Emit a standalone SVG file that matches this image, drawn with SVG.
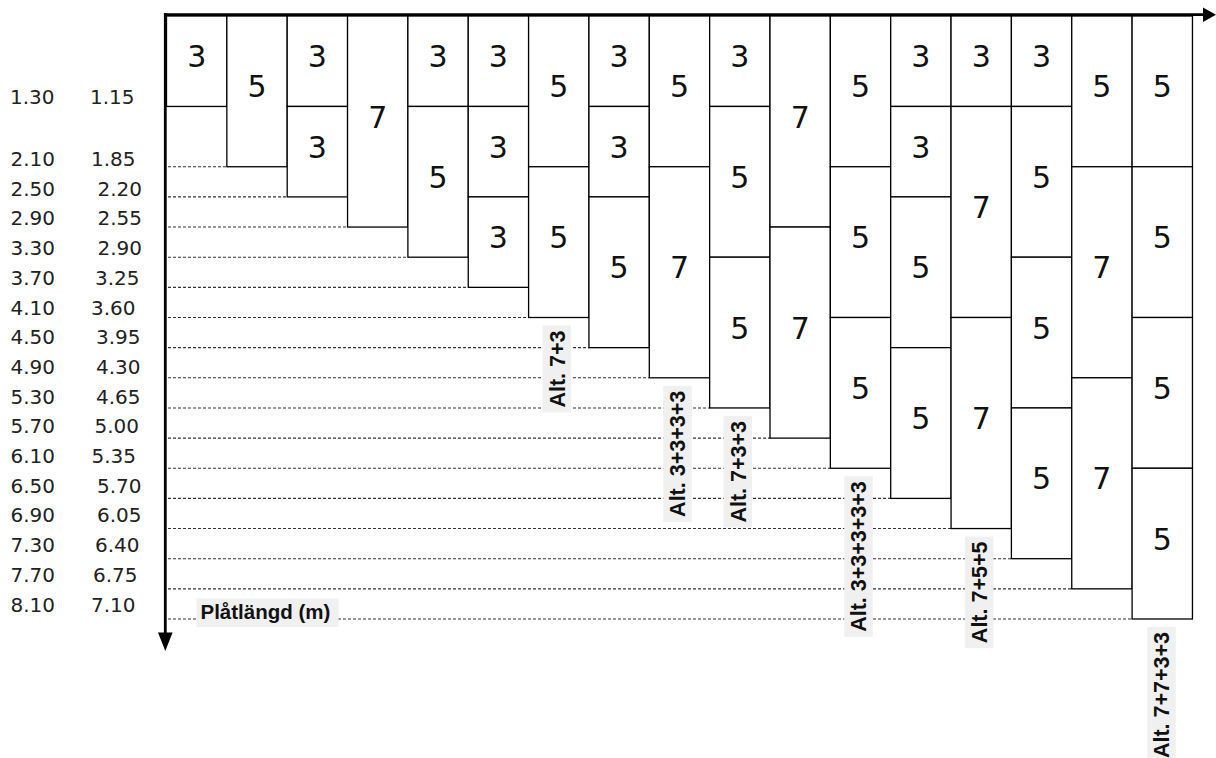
<svg xmlns="http://www.w3.org/2000/svg" width="1216" height="758" viewBox="0 0 1216 758">
<style>
.bg{fill:#ffffff}
.box{fill:#ffffff;stroke:#000;stroke-width:1.3}
.num{font-family:"DejaVu Sans","Liberation Sans",sans-serif;font-size:30px;fill:#111;text-anchor:middle}
.lbl{font-family:"DejaVu Sans","Liberation Sans",sans-serif;font-size:20px;fill:#222}
.dash{stroke:#333;stroke-width:1.1;stroke-dasharray:3 2;fill:none}
.tag{fill:#f0f0f0}
.alt{font-family:"Liberation Sans",Arial,sans-serif;font-weight:bold;font-size:21.5px;fill:#111;text-anchor:middle}
.ttl{font-family:"Liberation Sans",Arial,sans-serif;font-weight:bold;font-size:20.5px;fill:#111}
.axis{stroke:#000;stroke-width:2.8;fill:none}
</style>
<rect class="bg" x="0" y="0" width="1216" height="758"/>

<g id="guides">
<line class="dash" x1="168" y1="166.75" x2="226.85" y2="166.75"/>
<line class="dash" x1="168" y1="196.9" x2="287.2" y2="196.9"/>
<line class="dash" x1="168" y1="227.05" x2="347.55" y2="227.05"/>
<line class="dash" x1="168" y1="257.2" x2="407.9" y2="257.2"/>
<line class="dash" x1="168" y1="287.35" x2="468.25" y2="287.35"/>
<line class="dash" x1="168" y1="317.5" x2="528.6" y2="317.5"/>
<line class="dash" x1="168" y1="347.65" x2="588.95" y2="347.65"/>
<line class="dash" x1="168" y1="377.8" x2="649.3" y2="377.8"/>
<line class="dash" x1="168" y1="407.95" x2="709.65" y2="407.95"/>
<line class="dash" x1="168" y1="438.1" x2="770" y2="438.1"/>
<line class="dash" x1="168" y1="468.25" x2="830.35" y2="468.25"/>
<line class="dash" x1="168" y1="498.4" x2="890.7" y2="498.4"/>
<line class="dash" x1="168" y1="528.55" x2="951.05" y2="528.55"/>
<line class="dash" x1="168" y1="558.7" x2="1011.4" y2="558.7"/>
<line class="dash" x1="168" y1="588.85" x2="1071.75" y2="588.85"/>
<line class="dash" x1="168" y1="619" x2="1132.1" y2="619"/>
</g>

<g id="col1">
<rect class="box" x="166.5" y="16" width="60.35" height="90.45"/><text class="num" x="196.7" y="67.2">3</text>
</g>
<g id="col2">
<rect class="box" x="226.85" y="16" width="60.35" height="150.75"/><text class="num" x="257" y="97.4">5</text>
</g>
<g id="col3">
<rect class="box" x="287.2" y="16" width="60.35" height="90.45"/><text class="num" x="317.4" y="67.2">3</text>
<rect class="box" x="287.2" y="106.45" width="60.35" height="90.45"/><text class="num" x="317.4" y="157.7">3</text>
</g>
<g id="col4">
<rect class="box" x="347.55" y="16" width="60.35" height="211.05"/><text class="num" x="377.7" y="127.5">7</text>
</g>
<g id="col5">
<rect class="box" x="407.9" y="16" width="60.35" height="90.45"/><text class="num" x="438.1" y="67.2">3</text>
<rect class="box" x="407.9" y="106.45" width="60.35" height="150.75"/><text class="num" x="438.1" y="187.8">5</text>
</g>
<g id="col6">
<rect class="box" x="468.25" y="16" width="60.35" height="90.45"/><text class="num" x="498.4" y="67.2">3</text>
<rect class="box" x="468.25" y="106.45" width="60.35" height="90.45"/><text class="num" x="498.4" y="157.7">3</text>
<rect class="box" x="468.25" y="196.9" width="60.35" height="90.45"/><text class="num" x="498.4" y="248.1">3</text>
</g>
<g id="col7">
<rect class="box" x="528.6" y="16" width="60.35" height="150.75"/><text class="num" x="558.8" y="97.4">5</text>
<rect class="box" x="528.6" y="166.75" width="60.35" height="150.75"/><text class="num" x="558.8" y="248.1">5</text>
</g>
<g id="col8">
<rect class="box" x="588.95" y="16" width="60.35" height="90.45"/><text class="num" x="619.1" y="67.2">3</text>
<rect class="box" x="588.95" y="106.45" width="60.35" height="90.45"/><text class="num" x="619.1" y="157.7">3</text>
<rect class="box" x="588.95" y="196.9" width="60.35" height="150.75"/><text class="num" x="619.1" y="278.3">5</text>
</g>
<g id="col9">
<rect class="box" x="649.3" y="16" width="60.35" height="150.75"/><text class="num" x="679.5" y="97.4">5</text>
<rect class="box" x="649.3" y="166.75" width="60.35" height="211.05"/><text class="num" x="679.5" y="278.3">7</text>
</g>
<g id="col10">
<rect class="box" x="709.65" y="16" width="60.35" height="90.45"/><text class="num" x="739.8" y="67.2">3</text>
<rect class="box" x="709.65" y="106.45" width="60.35" height="150.75"/><text class="num" x="739.8" y="187.8">5</text>
<rect class="box" x="709.65" y="257.2" width="60.35" height="150.75"/><text class="num" x="739.8" y="338.6">5</text>
</g>
<g id="col11">
<rect class="box" x="770" y="16" width="60.35" height="211.05"/><text class="num" x="800.2" y="127.5">7</text>
<rect class="box" x="770" y="227.05" width="60.35" height="211.05"/><text class="num" x="800.2" y="338.6">7</text>
</g>
<g id="col12">
<rect class="box" x="830.35" y="16" width="60.35" height="150.75"/><text class="num" x="860.5" y="97.4">5</text>
<rect class="box" x="830.35" y="166.75" width="60.35" height="150.75"/><text class="num" x="860.5" y="248.1">5</text>
<rect class="box" x="830.35" y="317.5" width="60.35" height="150.75"/><text class="num" x="860.5" y="398.9">5</text>
</g>
<g id="col13">
<rect class="box" x="890.7" y="16" width="60.35" height="90.45"/><text class="num" x="920.9" y="67.2">3</text>
<rect class="box" x="890.7" y="106.45" width="60.35" height="90.45"/><text class="num" x="920.9" y="157.7">3</text>
<rect class="box" x="890.7" y="196.9" width="60.35" height="150.75"/><text class="num" x="920.9" y="278.3">5</text>
<rect class="box" x="890.7" y="347.65" width="60.35" height="150.75"/><text class="num" x="920.9" y="429">5</text>
</g>
<g id="col14">
<rect class="box" x="951.05" y="16" width="60.35" height="90.45"/><text class="num" x="981.2" y="67.2">3</text>
<rect class="box" x="951.05" y="106.45" width="60.35" height="211.05"/><text class="num" x="981.2" y="218">7</text>
<rect class="box" x="951.05" y="317.5" width="60.35" height="211.05"/><text class="num" x="981.2" y="429">7</text>
</g>
<g id="col15">
<rect class="box" x="1011.4" y="16" width="60.35" height="90.45"/><text class="num" x="1041.6" y="67.2">3</text>
<rect class="box" x="1011.4" y="106.45" width="60.35" height="150.75"/><text class="num" x="1041.6" y="187.8">5</text>
<rect class="box" x="1011.4" y="257.2" width="60.35" height="150.75"/><text class="num" x="1041.6" y="338.6">5</text>
<rect class="box" x="1011.4" y="407.95" width="60.35" height="150.75"/><text class="num" x="1041.6" y="489.3">5</text>
</g>
<g id="col16">
<rect class="box" x="1071.75" y="16" width="60.35" height="150.75"/><text class="num" x="1101.9" y="97.4">5</text>
<rect class="box" x="1071.75" y="166.75" width="60.35" height="211.05"/><text class="num" x="1101.9" y="278.3">7</text>
<rect class="box" x="1071.75" y="377.8" width="60.35" height="211.05"/><text class="num" x="1101.9" y="489.3">7</text>
</g>
<g id="col17">
<rect class="box" x="1132.1" y="16" width="60.35" height="150.75"/><text class="num" x="1162.3" y="97.4">5</text>
<rect class="box" x="1132.1" y="166.75" width="60.35" height="150.75"/><text class="num" x="1162.3" y="248.1">5</text>
<rect class="box" x="1132.1" y="317.5" width="60.35" height="150.75"/><text class="num" x="1162.3" y="398.9">5</text>
<rect class="box" x="1132.1" y="468.25" width="60.35" height="150.75"/><text class="num" x="1162.3" y="549.6">5</text>
</g>

<g id="alt-labels">
<rect class="tag" x="542.55" y="325.5" width="28.5" height="87.1"/>
<text class="alt" transform="translate(564.5,369.05) rotate(-90)">Alt. 7+3</text>
<rect class="tag" x="663.25" y="385.8" width="28.5" height="136.1"/>
<text class="alt" transform="translate(685.2,453.85) rotate(-90)">Alt. 3+3+3+3</text>
<rect class="tag" x="723.55" y="415.95" width="28.5" height="111.6"/>
<text class="alt" transform="translate(745.5,471.75) rotate(-90)">Alt. 7+3+3</text>
<rect class="tag" x="844.25" y="476.25" width="28.5" height="160.6"/>
<text class="alt" transform="translate(866.2,556.55) rotate(-90)">Alt. 3+3+3+3+3</text>
<rect class="tag" x="964.95" y="536.55" width="28.5" height="111.6"/>
<text class="alt" transform="translate(986.9,592.35) rotate(-90)">Alt. 7+5+5</text>
<rect class="tag" x="1147.25" y="627" width="28.5" height="136.1"/>
<text class="alt" transform="translate(1169.2,695.05) rotate(-90)">Alt. 7+7+3+3</text>
</g>

<g id="axis-title">
<rect class="tag" x="196.5" y="598.5" width="142" height="28.5"/>
<text class="ttl" x="200.5" y="618.5">Plåtlängd (m)</text>
</g>

<g id="axes">
<line class="axis" x1="164" y1="14.7" x2="1206" y2="14.7"/>
<polygon points="1203,7.5 1216,14.7 1203,21.9" fill="#000"/>
<line class="axis" x1="165.3" y1="13.3" x2="165.3" y2="635"/>
<polygon points="158,632.5 172.6,632.5 165.3,651" fill="#000"/>
</g>

<g id="length-labels">
<text class="lbl" x="10" y="104">1.30</text><text class="lbl" x="90" y="104">1.15</text>
<text class="lbl" x="10.5" y="166">2.10</text><text class="lbl" x="91" y="166">1.85</text>
<text class="lbl" x="10.5" y="195.7">2.50</text><text class="lbl" x="97.5" y="195.7">2.20</text>
<text class="lbl" x="10.5" y="225.4">2.90</text><text class="lbl" x="97.5" y="225.4">2.55</text>
<text class="lbl" x="10.5" y="255.1">3.30</text><text class="lbl" x="97.5" y="255.1">2.90</text>
<text class="lbl" x="10.5" y="284.8">3.70</text><text class="lbl" x="95" y="284.8">3.25</text>
<text class="lbl" x="10.5" y="314.5">4.10</text><text class="lbl" x="91" y="314.5">3.60</text>
<text class="lbl" x="10.5" y="344.2">4.50</text><text class="lbl" x="96" y="344.2">3.95</text>
<text class="lbl" x="10.5" y="373.9">4.90</text><text class="lbl" x="96" y="373.9">4.30</text>
<text class="lbl" x="10.5" y="403.6">5.30</text><text class="lbl" x="96" y="403.6">4.65</text>
<text class="lbl" x="10.5" y="433.3">5.70</text><text class="lbl" x="94.5" y="433.3">5.00</text>
<text class="lbl" x="10.5" y="463">6.10</text><text class="lbl" x="91.5" y="463">5.35</text>
<text class="lbl" x="10.5" y="492.7">6.50</text><text class="lbl" x="97" y="492.7">5.70</text>
<text class="lbl" x="10.5" y="522.4">6.90</text><text class="lbl" x="97" y="522.4">6.05</text>
<text class="lbl" x="10.5" y="552.1">7.30</text><text class="lbl" x="95" y="552.1">6.40</text>
<text class="lbl" x="10.5" y="581.8">7.70</text><text class="lbl" x="93" y="581.8">6.75</text>
<text class="lbl" x="10.5" y="611.5">8.10</text><text class="lbl" x="91" y="611.5">7.10</text>
</g>
</svg>
